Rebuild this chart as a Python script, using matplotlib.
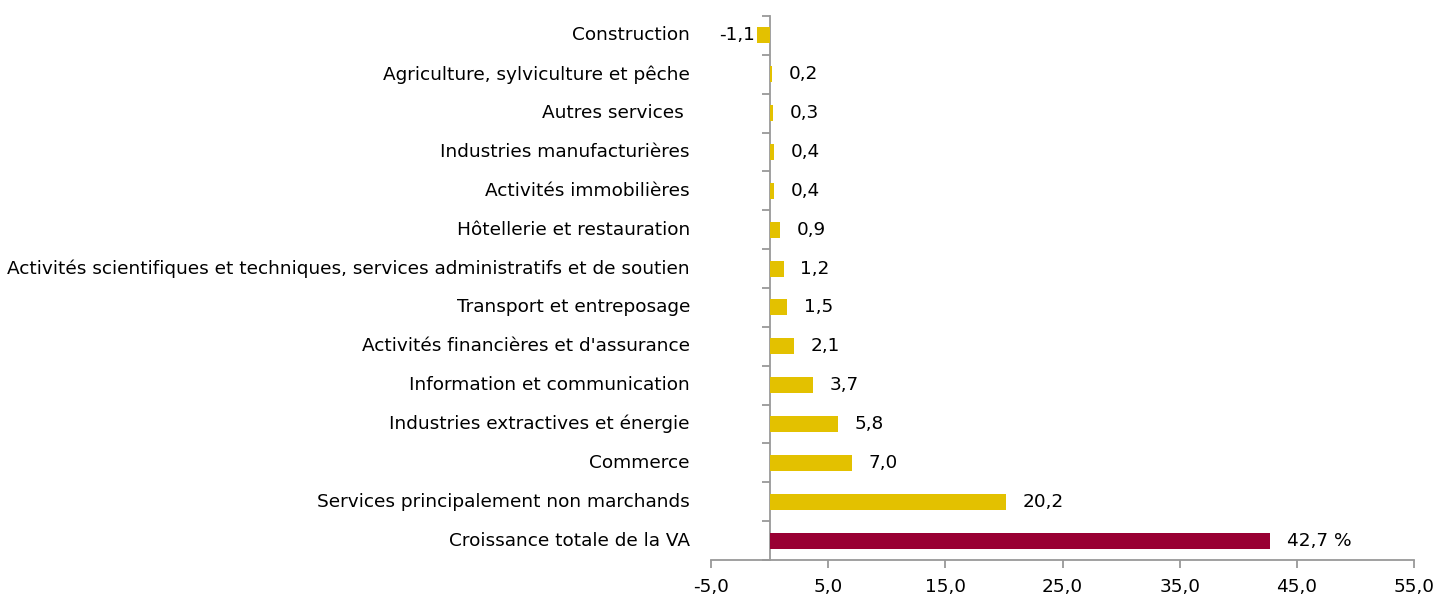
import matplotlib.pyplot as plt
from matplotlib.ticker import FixedLocator, FuncFormatter
from matplotlib.transforms import blended_transform_factory

# données (de haut en bas)
categories = [
    "Construction",
    "Agriculture, sylviculture et pêche",
    "Autres services ",
    "Industries manufacturières",
    "Activités immobilières",
    "Hôtellerie et restauration",
    "Activités scientifiques et techniques, services administratifs et de soutien",
    "Transport et entreposage",
    "Activités financières et d'assurance",
    "Information et communication",
    "Industries extractives et énergie",
    "Commerce",
    "Services principalement non marchands",
    "Croissance totale de la VA",
]
values = [-1.1, 0.2, 0.3, 0.4, 0.4, 0.9, 1.2, 1.5, 2.1, 3.7, 5.8, 7.0, 20.2, 42.7]
x_ticks = [-5, 5, 15, 25, 35, 45, 55]

gold = "#E3C100"
red = "#990033"
grey = "#999999"
fs = 13.3

plt.rcParams['font.family'] = ['DejaVu Sans']

fig = plt.figure(figsize=(14.36, 5.98), dpi=100)
ax = fig.add_axes([711 / 1436, 38 / 598, 703 / 1436, 544 / 598])

n = len(categories)
ypos = list(range(n - 1, -1, -1))
colors = [gold] * (n - 1) + [red]
bars = ax.barh(ypos, values, height=0.41, color=colors)

ax.set_xlim(-5, 55)
ax.set_ylim(-0.5, n - 0.5)

# axes
for s in ['top', 'right']:
    ax.spines[s].set_visible(False)
ax.spines['left'].set_position(('data', 0))
ax.spines['left'].set_color(grey)
ax.spines['bottom'].set_color(grey)
ax.spines['left'].set_linewidth(1.3)
ax.spines['bottom'].set_linewidth(1.3)
ax.spines['left'].set_zorder(0.5)

ax.xaxis.set_major_locator(FixedLocator(x_ticks))
ax.xaxis.set_major_formatter(FuncFormatter(lambda v, p: f"{v:.1f}".replace('.', ',')))
ax.tick_params(axis='x', direction='out', length=6, width=1.3, color=grey,
               labelsize=fs, pad=7)

ax.set_yticks([])
ax.yaxis.set_minor_locator(FixedLocator([i - 0.5 for i in range(n + 1)]))
ax.tick_params(axis='y', which='minor', direction='out', length=6, width=1.3,
               color=grey, labelleft=False)

# libellés des catégories
trans = blended_transform_factory(ax.transAxes, ax.transData)
for y, lab in zip(ypos, categories):
    ax.text(-0.03, y, lab, transform=trans, ha='right', va='center', fontsize=fs)

# étiquettes de valeurs
for i, (y, v) in enumerate(zip(ypos, values)):
    txt = f"{v:.1f}".replace('.', ',')
    if i == n - 1:
        txt += " %"
    if v < 0:
        ax.annotate(txt, (v, y), xytext=(-1.5, 0), textcoords='offset points',
                    ha='right', va='center', fontsize=fs)
    else:
        ax.annotate(txt, (v, y), xytext=(12, 0), textcoords='offset points',
                    ha='left', va='center', fontsize=fs)

fig.savefig("out.png", dpi=100)
